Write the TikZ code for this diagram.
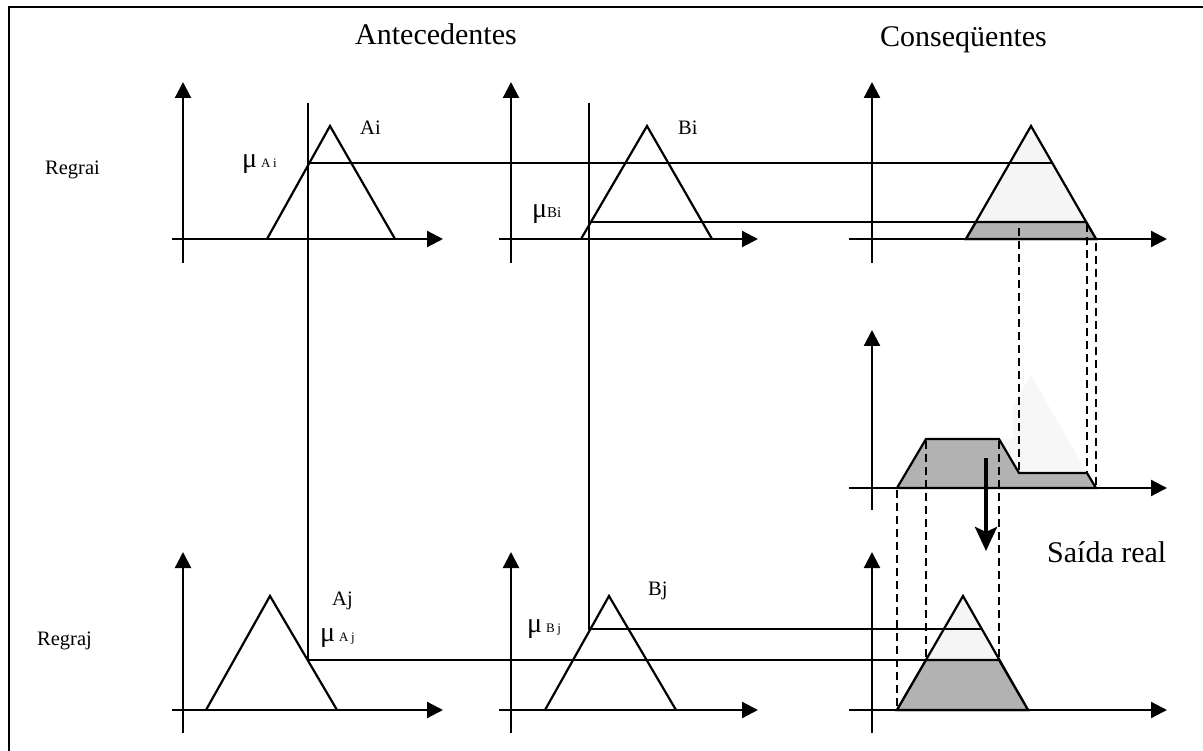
\documentclass[tikz,border=0pt]{standalone}
\usepackage{fontspec}
\setmainfont{Liberation Serif}
\usetikzlibrary{arrows.meta}
\begin{document}
\begin{tikzpicture}[x=1pt,y=-1pt,
  axis/.style={line width=2.2pt,-{Triangle[length=16pt,width=16pt]}},
  mf/.style={line width=2.2pt,line join=miter},
  guide/.style={line width=1.8pt},
  dsh/.style={line width=1.8pt,dash pattern=on 8pt off 5pt},
  light/.style={fill=black!4},
  dark/.style={fill=black!30},
  faint/.style={fill=black!3},
  title/.style={font=\fontsize{30}{36}\selectfont,anchor=base west,inner sep=0pt},
  lab/.style={font=\fontsize{20.5}{24}\selectfont,anchor=base west,inner sep=0pt},
  mu/.style={anchor=base west,inner sep=0pt}]
\useasboundingbox (0,0) rectangle (1203,751);
% frame (only left and top edges visible)
\draw[line width=2pt] (9,751) -- (9,7) -- (1203,7);

% titles
\node[title] (tA) at (355,45) {Antecedentes};
\node[title] (tC) at (880,47) {Conseqüentes};
\node[title] (tS) at (1047,562) {Saída real};

% rule labels
\node[lab] (r1) at (45,175) {Regrai};
\node[lab] (r2) at (37,645) {Regraj};

% fills
\filldraw[light,mf] (966,239) -- (1031,126) -- (1096,239) -- cycle;
\filldraw[dark,mf] (966,239) -- (976,222) -- (1086,222) -- (1096,239) -- cycle;
\fill[faint] (999,439) -- (1013,439) -- (1013,405) -- (1031,375) -- (1087,473) -- (1019,473) -- cycle;
\filldraw[dark,mf] (897,488) -- (926,439) -- (999,439) -- (1019,473) -- (1087,473) -- (1096,488) -- cycle;
\filldraw[light,mf] (897,710) -- (963,596) -- (1028,710) -- cycle;
\filldraw[dark,mf] (897,710) -- (926,660) -- (999,660) -- (1028,710) -- cycle;

% antecedent membership functions
\draw[mf] (267,239) -- (330,126) -- (395,239);
\draw[mf] (581,239) -- (647,126) -- (712,239);
\draw[mf] (206,710) -- (270,596) -- (337,710);
\draw[mf] (545,710) -- (609,596) -- (676,710);

% inputs and levels
\coordinate (xa) at (308,103);
\coordinate (xb) at (589,103);
\draw[guide] (xa) -- (308,660) -- (999,660);
\draw[guide] (308,163) -- (1052,163);
\draw[guide] (xb) -- (589,629) -- (982,629);
\draw[guide] (589,222) -- (1086,222);

% dashed projections
\draw[dsh] (1019,228) -- (1019,473);
\draw[dsh] (1087,224) -- (1087,473);
\draw[dsh] (1096,243) -- (1096,488);
\draw[dsh] (897,490) -- (897,710);
\draw[dsh] (926,441) -- (926,660);
\draw[dsh] (999,441) -- (999,660);

% axes
\foreach \x/\xl/\xr/\y/\yt/\yb in {183/172/443/239/82/263, 511/499/758/239/82/263, 872/849/1167/239/82/263,
  872/849/1167/488/330/510, 183/172/443/710/552/733, 511/499/758/710/552/733, 872/849/1167/710/552/733}{
  \draw[axis] (\x,\yb) -- (\x,\yt);
  \draw[axis] (\xl,\y) -- (\xr,\y);
}

% defuzzification arrow
\coordinate (d1) at (986,458);
\coordinate (d2) at (986,551);
\draw[line width=4.5pt,-{Stealth[length=24pt,width=22pt,inset=5pt]}] (d1) -- (d2);

% set labels
\node[lab] (lAi) at (360,135) {Ai};
\node[lab] (lBi) at (678,135) {Bi};
\node[lab] (lAj) at (332,605) {Aj};
\node[lab] (lBj) at (648,595) {Bj};

% membership degree labels
\node[mu] (mAi) at (242,168) {{\fontsize{28}{28}\selectfont μ}\hspace{4pt}{\fontsize{13}{13}\selectfont A\hspace{2.5pt}i}};
\node[mu] (mBi) at (532,218) {{\fontsize{28}{28}\selectfont μ}{\fontsize{15}{15}\selectfont Bi}};
\node[mu] (mAj) at (320,641) {{\fontsize{28}{28}\selectfont μ}\hspace{4pt}{\fontsize{13}{13}\selectfont A\hspace{2.5pt}j}};
\node[mu] (mBj) at (527,632) {{\fontsize{28}{28}\selectfont μ}\hspace{4pt}{\fontsize{13}{13}\selectfont B\hspace{2.5pt}j}};
\end{tikzpicture}
\end{document}
